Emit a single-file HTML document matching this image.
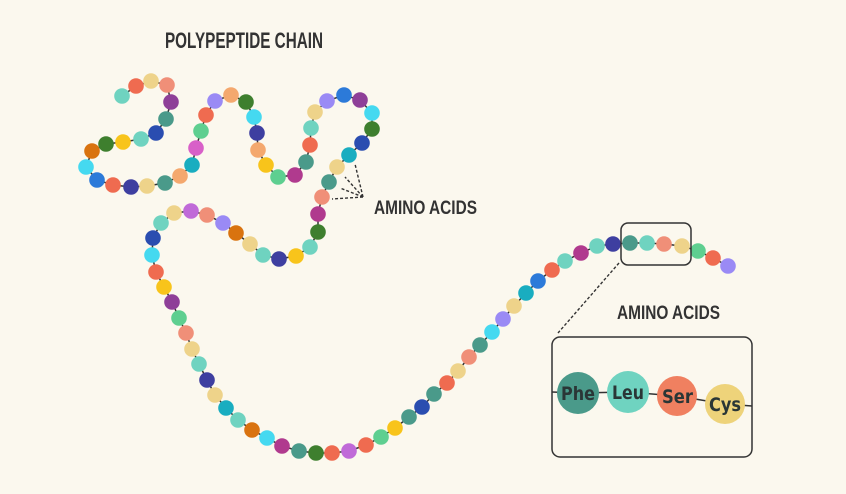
<!DOCTYPE html>
<html><head><meta charset="utf-8"><style>
html,body{margin:0;padding:0;background:#fbf8ee;}
svg{display:block;}
.t{font-family:"Liberation Sans",sans-serif;font-weight:bold;fill:#333;}
.l{font-family:"DejaVu Sans Condensed","DejaVu Sans","Liberation Sans",sans-serif;font-weight:bold;fill:#2a3636;font-size:19px;}
</style></head><body>
<svg width="846" height="494" viewBox="0 0 846 494" xmlns="http://www.w3.org/2000/svg">
<rect width="846" height="494" fill="#fbf8ee"/>
<text class="t" x="165" y="48" font-size="22" textLength="158" lengthAdjust="spacingAndGlyphs">POLYPEPTIDE CHAIN</text>
<text class="t" x="374" y="214" font-size="19" textLength="103" lengthAdjust="spacingAndGlyphs">AMINO ACIDS</text>
<text class="t" x="617" y="319" font-size="19" textLength="103" lengthAdjust="spacingAndGlyphs">AMINO ACIDS</text>
<g stroke="#333" stroke-width="1.4" stroke-dasharray="3,2" fill="none">
<line x1="363" y1="197" x2="355" y2="164"/>
<line x1="363" y1="197" x2="345" y2="177"/>
<line x1="363" y1="197" x2="340" y2="188"/>
<line x1="363" y1="197" x2="332" y2="199"/>
<line x1="619" y1="263" x2="558" y2="333"/>
</g>
<g id="chain"></g>
<rect x="621" y="223" width="70" height="42" rx="7" fill="none" stroke="#333" stroke-width="1.5"/>
<rect x="552" y="337" width="200" height="120" rx="8" fill="none" stroke="#333" stroke-width="1.5"/>
<polyline points="552,392 578,393 628,392 677,396 725,404 752,406" fill="none" stroke="#333" stroke-width="1.5"/>
<circle cx="578" cy="393" r="21" fill="#4a9a8a"/>
<circle cx="628" cy="392" r="21" fill="#6fd3c0"/>
<circle cx="677" cy="396" r="20" fill="#f08060"/>
<circle cx="725" cy="404" r="20" fill="#eed37a"/>
<text class="l" x="561" y="400" textLength="34" lengthAdjust="spacingAndGlyphs">Phe</text>
<text class="l" x="612" y="399" textLength="32" lengthAdjust="spacingAndGlyphs">Leu</text>
<text class="l" x="662" y="403" textLength="31" lengthAdjust="spacingAndGlyphs">Ser</text>
<text class="l" x="709" y="411" textLength="32" lengthAdjust="spacingAndGlyphs">Cys</text>
</svg>
<script>
var b=[[122,96,"#6fd3c0"],[136,86,"#ef6b50"],[151,81,"#eed38a"],[167,85,"#f08f78"],[171,102,"#8e3f98"],[166,119,"#4a9a8a"],[156,133,"#2a4db0"],[141,139,"#6fd3c0"],[123,142,"#f8c41b"],[106,144,"#3e7f2e"],[92,151,"#d9730f"],[86,167,"#45d9f0"],[97,180,"#2c7ad9"],[113,185,"#ef6b50"],[131,187,"#3e3fa0"],[147,186,"#eed38a"],[165,183,"#4a9a8a"],[180,176,"#f4a86e"],[192,165,"#19adc0"],[196,148,"#d860c8"],[201,131,"#5ecf90"],[206,115,"#ef6b50"],[215,101,"#9a8af5"],[231,95,"#f4a86e"],[246,102,"#3e7f2e"],[254,117,"#45d9f0"],[257,133,"#3e3fa0"],[258,150,"#f4a86e"],[266,165,"#f8c41b"],[278,177,"#5ecf90"],[295,175,"#b03a8e"],[306,162,"#4a9a8a"],[310,145,"#ef6b50"],[311,128,"#6fd3c0"],[315,112,"#eed38a"],[327,101,"#9a8af5"],[344,95,"#2c7ad9"],[360,100,"#8e3f98"],[372,113,"#45d9f0"],[372,129,"#3e7f2e"],[362,143,"#2a4db0"],[349,155,"#19adc0"],[337,167,"#eed38a"],[329,182,"#4a9a8a"],[322,197,"#f08f78"],[318,214,"#b03a8e"],[318,232,"#3e7f2e"],[310,247,"#6fd3c0"],[296,256,"#f8c41b"],[279,259,"#3e3fa0"],[263,255,"#6fd3c0"],[250,244,"#eed38a"],[236,233,"#d9730f"],[223,223,"#9a8af5"],[207,215,"#f08f78"],[191,211,"#c06ad8"],[174,213,"#eed38a"],[161,223,"#6fd3c0"],[153,238,"#2a4db0"],[152,255,"#45d9f0"],[156,272,"#ef6b50"],[164,287,"#f8c41b"],[172,302,"#8e3f98"],[179,318,"#5ecf90"],[186,333,"#f08f78"],[192,349,"#eed38a"],[199,364,"#6fd3c0"],[207,380,"#3e3fa0"],[215,395,"#eed38a"],[226,408,"#19adc0"],[238,420,"#6fd3c0"],[252,430,"#d9730f"],[267,438,"#45d9f0"],[282,446,"#b03a8e"],[299,451,"#4a9a8a"],[316,453,"#3e7f2e"],[332,453,"#ef6b50"],[349,451,"#c06ad8"],[366,445,"#ef6b50"],[381,437,"#5ecf90"],[395,428,"#f8c41b"],[409,417,"#4a9a8a"],[422,407,"#2a4db0"],[434,394,"#4a9a8a"],[447,383,"#ef6b50"],[458,371,"#eed38a"],[469,357,"#f08f78"],[480,345,"#4a9a8a"],[492,332,"#45d9f0"],[503,319,"#9a8af5"],[514,306,"#eed38a"],[526,293,"#19adc0"],[538,281,"#2c7ad9"],[552,270,"#ef6b50"],[565,261,"#6fd3c0"],[581,253,"#b03a8e"],[597,246,"#6fd3c0"],[613,244,"#3e3fa0"],[630,243,"#4a9a8a"],[647,243,"#6fd3c0"],[664,244,"#f08f78"],[682,246,"#eed38a"],[698,251,"#5ecf90"],[713,258,"#ef6b50"],[728,266,"#9a8af5"]];
var ns="http://www.w3.org/2000/svg",g=document.getElementById("chain");
var pl=document.createElementNS(ns,"polyline");
pl.setAttribute("points",b.map(function(p){return p[0]+","+p[1]}).join(" "));
pl.setAttribute("fill","none");pl.setAttribute("stroke","#333");pl.setAttribute("stroke-width","1.5");
g.appendChild(pl);
b.forEach(function(p){var c=document.createElementNS(ns,"circle");c.setAttribute("cx",p[0]);c.setAttribute("cy",p[1]);c.setAttribute("r","7.8");c.setAttribute("fill",p[2]);g.appendChild(c);});
</script>
</body></html>
